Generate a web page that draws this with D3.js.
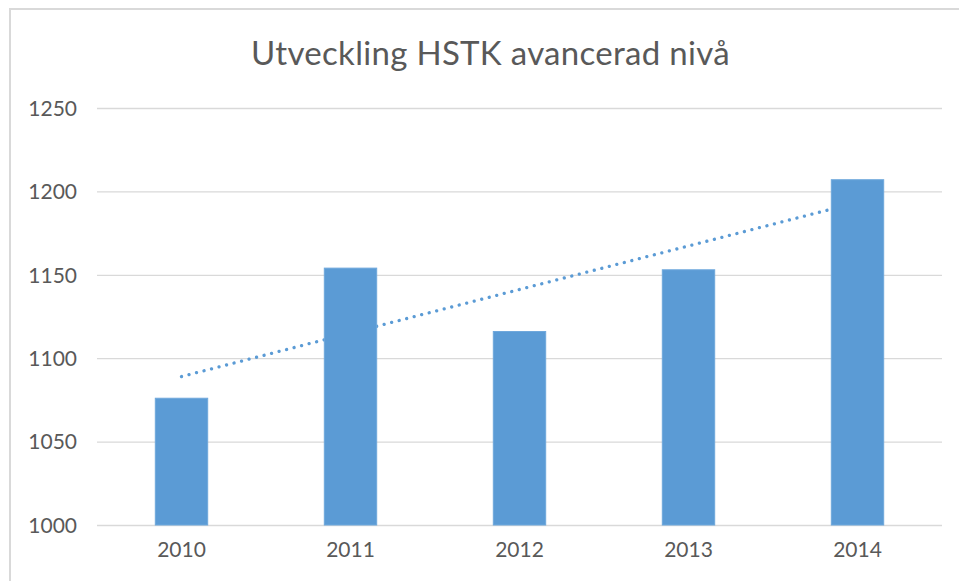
<!DOCTYPE html>
<html>
<head>
<meta charset="utf-8">
<script src="https://d3js.org/d3.v7.min.js"></script>
<style>
  body { margin: 0; background: #fff; }
  text { font-family: Lato, "Open Sans", sans-serif; fill: #595959; }
</style>
</head>
<body>
<div id="chart"></div>
<script>
var years = ["2010", "2011", "2012", "2013", "2014"];
var values = [1076, 1154, 1116, 1153, 1207];
var yTicks = [1000, 1050, 1100, 1150, 1200, 1250];
var title = "Utveckling HSTK avancerad nivå";

var W = 959, H = 581;
var Margin = {top: 108, right: 17, bottom: 56, left: 97};
var InnerWidth = W - Margin.left - Margin.right;
var InnerHeight = H - Margin.top - Margin.bottom;

var svg = d3.select("#chart").append("svg")
    .attr("width", W)
    .attr("height", H);

// outer chart frame (runs off the right and bottom of the picture)
svg.append("rect")
   .attr("x", 10).attr("y", 9)
   .attr("width", 961).attr("height", 600)
   .style("fill", "none")
   .style("stroke", "#d9d9d9")
   .style("stroke-width", 2);

svg.append("text")
   .attr("x", 490.5)
   .attr("y", 65)
   .attr("text-anchor", "middle")
   .style("font-size", "33px")
   .style("letter-spacing", "0.3px")
   .text(title);

var g = svg.append("g")
    .attr("transform", "translate(" + Margin.left + "," + Margin.top + ")");

var x = d3.scaleBand().domain(years).range([0, InnerWidth]).paddingInner(0.69).paddingOuter(0.345);
var y = d3.scaleLinear().domain([1000, 1250]).range([InnerHeight, 0]);

// gridlines + y labels
var yAxis = g.append("g")
    .call(d3.axisLeft(y).tickValues(yTicks).tickFormat(d3.format("d")).tickSize(-InnerWidth).tickPadding(20));
yAxis.select(".domain").remove();
yAxis.selectAll("line").style("stroke", "#d9d9d9").style("stroke-width", 1.3);
yAxis.selectAll("text").style("font-size", "21px").style("fill", "#595959")
     .attr("dy", "0.35em");

// x labels
var xAxis = g.append("g")
    .attr("transform", "translate(0," + InnerHeight + ")")
    .call(d3.axisBottom(x).tickSize(0).tickPadding(17));
xAxis.select(".domain").remove();
xAxis.selectAll("text").style("font-size", "21px").style("fill", "#595959")
     .attr("dy", "0.71em");

// linear trendline (least squares on the bar values), drawn under the bars
var n = values.length;
var mx = d3.mean(values, function(d, i) { return i; });
var my = d3.mean(values);
var sxy = d3.sum(values, function(d, i) { return (i - mx) * (d - my); });
var sxx = d3.sum(values, function(d, i) { return (i - mx) * (i - mx); });
var slope = sxy / sxx;
var icpt = my - slope * mx;
var trend = [0, n - 1].map(function(i) { return [i, icpt + slope * i]; });

g.append("path")
   .datum(trend)
   .attr("d", d3.line()
      .x(function(d) { return x(years[d[0]]) + x.bandwidth() / 2; })
      .y(function(d) { return y(d[1]); }))
   .style("fill", "none")
   .style("stroke", "#5b9bd5")
   .style("stroke-width", 3.3)
   .style("stroke-linecap", "round")
   .style("stroke-dasharray", "0.01 7.74");

g.selectAll(".bar")
   .data(values)
   .enter().append("rect")
   .attr("class", "bar")
   .attr("x", function(d, i) { return x(years[i]); })
   .attr("y", function(d) { return y(d); })
   .attr("width", x.bandwidth())
   .attr("height", function(d) { return InnerHeight - y(d); })
   .style("fill", "#5b9bd5")
   .style("stroke", "#6fa8dc")
   .style("stroke-width", 1);
</script>
</body>
</html>
